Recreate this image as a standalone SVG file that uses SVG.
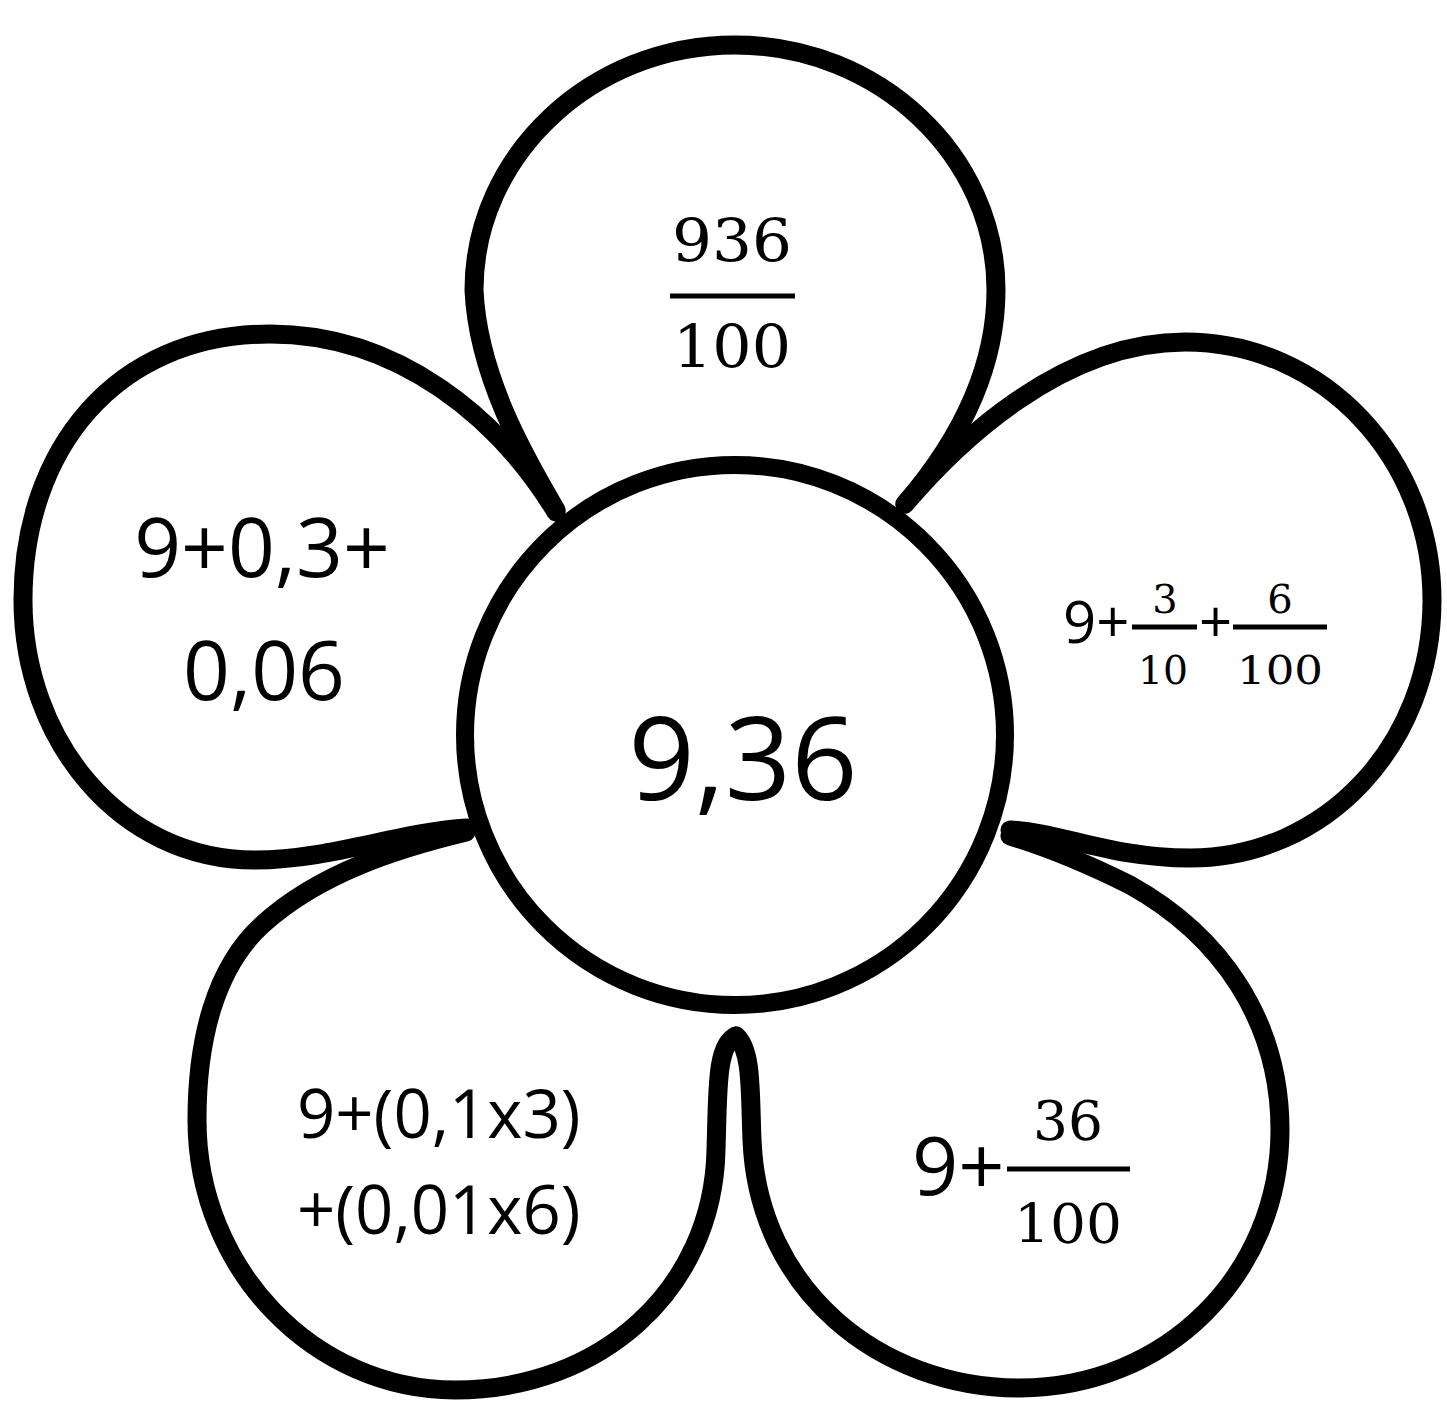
<svg xmlns="http://www.w3.org/2000/svg" width="1447" height="1405" viewBox="0 0 1447 1405">
<style>
.petal{fill:#fff;stroke:#000;stroke-width:19;stroke-linecap:round;stroke-linejoin:round}
.core{fill:#fff;stroke:#000;stroke-width:18}
.sans{font-family:"Open Sans","Liberation Sans",sans-serif;fill:#000}
.math{font-family:"DejaVu Serif","Liberation Serif",serif;fill:#000;text-anchor:middle}
.bar{stroke:#000;stroke-width:5}
</style>
<rect width="1447" height="1405" fill="#fff"/>
<g id="petal-top">
<path class="petal" d="M 556,510 C 530,465 478,380 474,290 C 474,156 591,45 735,45 C 879,45 996,156 996,290 C 996,370 960,440 905,504"/>
<text class="math" x="732" y="262" font-size="60" textLength="120" lengthAdjust="spacingAndGlyphs">936</text>
<line class="bar" x1="670" y1="296" x2="795" y2="296"/>
<text class="math" x="732" y="368" font-size="60" textLength="118" lengthAdjust="spacingAndGlyphs">100</text>
</g>
<g id="petal-left">
<path class="petal" d="M 556,512 C 500,420 400,334 270,334 C 115,334 23,450 23,600 C 23,740 120,860 255,860 C 330,860 400,832 467,828"/>
<text class="sans" x="262" y="577" font-size="82" text-anchor="middle">9+0,3+</text>
<text class="sans" x="264" y="700" font-size="82" text-anchor="middle">0,06</text>
</g>
<g id="petal-right">
<path class="petal" d="M 905,504 C 955,445 1060,342 1185,342 C 1325,342 1432,460 1432,600 C 1432,745 1325,858 1190,858 C 1110,858 1060,832 1010,830"/>
<text class="sans" x="1063" y="643" font-size="58">9+</text>
<text class="math" x="1165" y="613" font-size="40">3</text>
<line class="bar" x1="1132" y1="627" x2="1197" y2="627"/>
<text class="math" x="1163" y="684" font-size="40" textLength="50" lengthAdjust="spacingAndGlyphs">10</text>
<text class="sans" x="1199" y="643" font-size="58">+</text>
<text class="math" x="1280" y="613" font-size="40">6</text>
<line class="bar" x1="1233" y1="627" x2="1327" y2="627"/>
<text class="math" x="1280" y="684" font-size="40" textLength="86" lengthAdjust="spacingAndGlyphs">100</text>
</g>
<g id="petal-bottom-left">
<path class="petal" d="M 466,832 C 400,848 320,872 262,925 C 215,968 197,1040 197,1120 C 197,1270 315,1390 455,1390 C 600,1390 713,1290 716,1150 C 718,1090 716,1045 736,1036"/>
<text class="sans" x="297" y="1138" font-size="67">9+(0,1x3)</text>
<text class="sans" x="297" y="1234" font-size="67">+(0,01x6)</text>
</g>
<g id="petal-bottom-right">
<path class="petal" d="M 736,1036 C 752,1050 750,1090 752,1140 C 758,1290 880,1388 1020,1388 C 1165,1388 1280,1275 1280,1130 C 1280,1020 1220,935 1130,885 C 1080,860 1040,845 1010,836"/>
<text class="sans" x="912" y="1195" font-size="81">9+</text>
<line class="bar" x1="1007" y1="1169" x2="1130" y2="1169"/>
<text class="math" x="1068" y="1140" font-size="55">36</text>
<text class="math" x="1068" y="1243" font-size="55" textLength="108" lengthAdjust="spacingAndGlyphs">100</text>
</g>
<g id="connectors"></g>
<g id="center">
<circle class="core" cx="735" cy="735" r="270"/>
<text class="sans" x="743" y="800" font-size="116" text-anchor="middle">9,36</text>
</g>
</svg>
